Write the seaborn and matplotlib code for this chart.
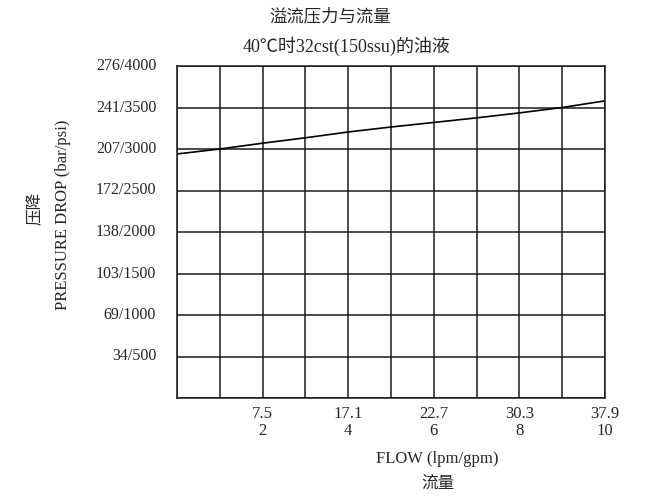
import matplotlib
matplotlib.use("Agg")
import matplotlib.pyplot as plt
import seaborn as sns
import pandas as pd

# data
flow_gpm = [0, 1, 2, 3, 4, 5, 6, 7, 8, 9, 10]
pressure_psi = [2940, 3000, 3070, 3135, 3205, 3265, 3320, 3375, 3435, 3500, 3580]

x_ticks = [2, 4, 6, 8, 10]
x_lpm = ["7.5", "17.1", "22.7", "30.3", "37.9"]
x_gpm = ["2", "4", "6", "8", "10"]
y_ticks = [500, 1000, 1500, 2000, 2500, 3000, 3500, 4000]
y_labels = ["34/500", "69/1000", "103/1500", "138/2000", "172/2500",
            "207/3000", "241/3500", "276/4000"]

title1 = "溢流压力与流量"
title2 = "40℃时32cst(150ssu)的油液"
ylab1 = "压降"
ylab2 = "PRESSURE DROP (bar/psi)"
xlab1 = "FLOW (lpm/gpm)"
xlab2 = "流量"

sns.set_style("white")
plt.rcParams['font.family'] = ['Liberation Serif', 'Noto Sans CJK SC', 'DejaVu Sans']
fam = ['Liberation Serif', 'Noto Sans CJK SC', 'DejaVu Sans']
cjk = ['Noto Sans CJK SC', 'DejaVu Sans']

W, H = 670, 496
fig = plt.figure(figsize=(W / 100, H / 100), dpi=100)
ax = fig.add_axes([177 / W, 1 - 398 / H, (605 - 177) / W, (398 - 66) / H])

df = pd.DataFrame({"flow": flow_gpm, "psi": pressure_psi})
sns.lineplot(data=df, x="flow", y="psi", ax=ax, color="black", linewidth=1.2)

ax.set_xlim(0, 10)
ax.set_ylim(0, 4000)
ax.set_xticks(range(0, 11))
ax.set_yticks(range(0, 4001, 500))
ax.grid(True, color="#1a1a1a", linewidth=1.1)
ax.set_axisbelow(True)
ax.tick_params(length=0, labelbottom=False, labelleft=False)
for s in ax.spines.values():
    s.set_color("#1a1a1a")
    s.set_linewidth(1.1)
ax.set_xlabel("")
ax.set_ylabel("")

for x, l1, l2 in zip(x_ticks, x_lpm, x_gpm):
    ax.annotate(l1 + "\n" + l2, xy=(x, 0), xycoords="data",
                xytext=(0, -6), textcoords="offset points",
                ha="center", va="top", fontsize=12, family=fam,
                linespacing=1.05)
for y, lab in zip(y_ticks, y_labels):
    ax.annotate(lab, xy=(0, y), xycoords="data",
                xytext=(-15, 0), textcoords="offset points",
                ha="right", va="center", fontsize=11.5, family=fam)

fig.text(330 / W, 1 - 16 / H, title1, ha="center", va="center",
         fontsize=12.5, family=cjk)
fig.text(347 / W, 1 - 46 / H, title2, ha="center", va="center",
         fontsize=13, family=fam)
fig.text(35 / W, 1 - 208 / H, ylab1, ha="center", va="center", rotation=90,
         fontsize=12, family=cjk)
fig.text(63 / W, 1 - 215 / H, ylab2, ha="center", va="center", rotation=90,
         fontsize=12, family=fam)
fig.text(437 / W, 1 - 459 / H, xlab1, ha="center", va="center",
         fontsize=12, family=fam)
fig.text(438 / W, 1 - 483 / H, xlab2, ha="center", va="center",
         fontsize=12, family=cjk)

fig.savefig("out.png", dpi=100, facecolor="white")
